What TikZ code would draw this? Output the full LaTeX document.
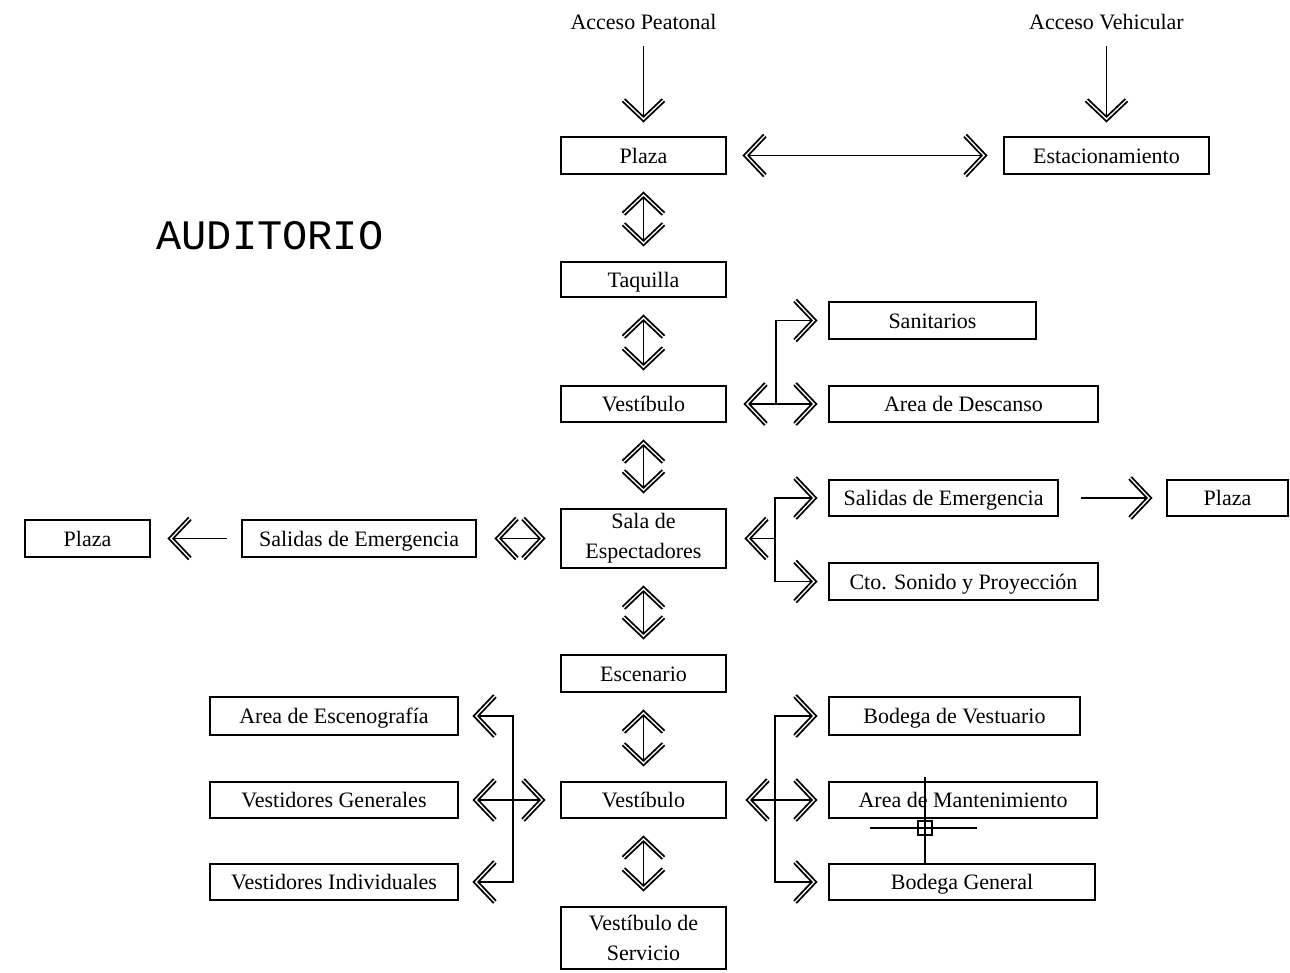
\documentclass[tikz,border=0pt]{standalone}
\usepackage{fontspec}
\setmainfont{Liberation Serif}
\newfontfamily\monof{Liberation Mono}
\usetikzlibrary{arrows.meta}

\pgfdeclarearrow{
  name = HC,
  parameters = {\the\pgfarrowlength,\the\pgfarrowwidth},
  setup code = {
    \pgfarrowssettipend{0pt}
    \pgfarrowssetbackend{-\pgfarrowlength}
    \pgfarrowssetlineend{-2pt}
    \pgfarrowssavethe\pgfarrowlength
    \pgfarrowssavethe\pgfarrowwidth
  },
  drawing code = {
    \pgfsetdash{}{0pt}
    \pgfsetmiterjoin
    \pgfsetbuttcap
    \pgfsetlinewidth{5pt}
    \pgfpathmoveto{\pgfqpoint{-\pgfarrowlength}{.5\pgfarrowwidth}}
    \pgfpathlineto{\pgfpointorigin}
    \pgfpathlineto{\pgfqpoint{-\pgfarrowlength}{-.5\pgfarrowwidth}}
    \pgfusepathqstroke
    \pgfsetlinewidth{1.3pt}
    \pgfsetstrokecolor{white}
    \pgfpathmoveto{\pgfqpoint{-\pgfarrowlength}{.5\pgfarrowwidth}}
    \pgfpathlineto{\pgfpointorigin}
    \pgfpathlineto{\pgfqpoint{-\pgfarrowlength}{-.5\pgfarrowwidth}}
    \pgfusepathqstroke
  },
  defaults = {length=19pt, width=40pt}
}

\tikzset{
  box/.style={draw, line width=1.8pt, inner sep=0pt, align=center,
    font=\fontsize{22}{30}\selectfont},
  sbox/.style={box, text height=15pt, text depth=0pt},
  lbl/.style={inner sep=0pt, font=\fontsize{22}{26}\selectfont},
  conn/.style={line width=1.6pt},
  one/.style={conn, -{HC}},
  two/.style={conn, {HC}-{HC}},
}

\begin{document}
\begin{tikzpicture}[x=1pt, y=-1pt]
\useasboundingbox[fill=white] (0,0) rectangle (1290,972);

% titles and labels
\node[font=\monof\fontsize{42}{42}\selectfont, inner sep=0pt] (title) at (270,236) {AUDITORIO};
\node[lbl] (accP) at (643.5,22) {Acceso Peatonal};
\node[lbl] (accV) at (1106.5,22) {Acceso Vehicular};

% central column
\node[sbox, minimum width=165pt, minimum height=37pt] (plaza1) at (643.5,155.5) {Plaza};
\node[sbox, minimum width=165pt, minimum height=35pt] (taq) at (643.5,279.5) {Taquilla};
\node[sbox, minimum width=165pt, minimum height=36pt] (vest1) at (643.5,404) {Vestíbulo};
\node[box, minimum width=165pt, minimum height=59pt] (sala) at (643.5,538.5) {Sala de\\Espectadores};
\node[sbox, minimum width=165pt, minimum height=37pt] (esc) at (643.5,673.5) {Escenario};
\node[sbox, minimum width=165pt, minimum height=36pt] (vest2) at (643.5,800) {Vestíbulo};
\node[box, minimum width=165pt, minimum height=62pt] (vserv) at (643.5,938) {Vestíbulo de\\Servicio};

% right side
\node[sbox, minimum width=205pt, minimum height=37pt] (est) at (1106.5,155.5) {Estacionamiento};
\node[sbox, minimum width=207pt, minimum height=37pt] (sanit) at (932.5,320.5) {Sanitarios};
\node[sbox, minimum width=269pt, minimum height=36pt] (desc) at (963.5,404) {Area de Descanso};
\node[sbox, minimum width=229pt, minimum height=36pt] (salR) at (943.5,498) {Salidas de Emergencia};
\node[sbox, minimum width=121pt, minimum height=36pt] (plazaR) at (1227.5,498) {Plaza};
\node[sbox, minimum width=269pt, minimum height=37pt] (cto) at (963.5,581.5) {Cto. Sonido y Proyección};
\node[sbox, minimum width=251pt, minimum height=38pt] (bvest) at (954.5,716) {Bodega de Vestuario};
\node[sbox, minimum width=268pt, minimum height=36pt] (amant) at (963,800) {Area de Mantenimiento};
\node[sbox, minimum width=266pt, minimum height=36pt] (bgen) at (962,882) {Bodega General};

% left side
\node[sbox, minimum width=125pt, minimum height=37pt] (plazaL) at (87.5,538.5) {Plaza};
\node[sbox, minimum width=234pt, minimum height=37pt] (salL) at (359,538.5) {Salidas de Emergencia};
\node[sbox, minimum width=248pt, minimum height=38pt] (aesc) at (334,716) {Area de Escenografía};
\node[sbox, minimum width=248pt, minimum height=36pt] (vgen) at (334,800) {Vestidores Generales};
\node[sbox, minimum width=248pt, minimum height=36pt] (vind) at (334,882) {Vestidores Individuales};

% access arrows
\draw[one, shorten <=16pt, shorten >=17pt] (accP.south) -- (plaza1.north);
\draw[one, shorten <=16pt, shorten >=17pt] (accV.south) -- (est.north);
\draw[two, shorten <=19pt, shorten >=19pt] (plaza1.east) -- (est.west);

% central vertical links
\draw[two, shorten <=20pt, shorten >=18pt] (plaza1.south) -- (taq.north);
\draw[two, shorten <=20pt, shorten >=18pt] (taq.south) -- (vest1.north);
\draw[two, shorten <=20pt, shorten >=18pt] (vest1.south) -- (sala.north);
\draw[two, shorten <=20pt, shorten >=18pt] (sala.south) -- (esc.north);
\draw[two, shorten <=20pt, shorten >=18pt] (esc.south) -- (vest2.north);
\draw[two, shorten <=20pt, shorten >=18pt] (vest2.south) -- (vserv.north);

% vestibulo branch
\coordinate (j1) at (776,404);
\draw[two, shorten <=20pt, shorten >=14pt] (vest1.east) -- (desc.west);
\draw[one, shorten >=14pt] (j1) |- (sanit.west);

% sala branch (right)
\coordinate (j2) at (775,538.5);
\draw[conn, {HC}-, shorten <=21pt] (sala.east) -- (j2);
\draw[one, shorten >=14pt] (j2) |- (salR.west);
\draw[one, shorten >=14pt] (j2) |- (cto.west);
\draw[one, shorten <=22pt, shorten >=17pt] (salR.east) -- (plazaR.west);

% sala branch (left)
\draw[two, shorten <=18pt, shorten >=21pt] (sala.west) -- (salL.east);
\draw[one, shorten <=14pt, shorten >=20pt] (salL.west) -- (plazaL.east);

% lower left branch
\coordinate (j4) at (513,800);
\draw[two, shorten <=18pt, shorten >=17pt] (vest2.west) -- (vgen.east);
\draw[one, shorten >=17pt] (j4) |- (aesc.east);
\draw[one, shorten >=17pt] (j4) |- (vind.east);

% lower right branch
\coordinate (j5) at (775,800);
\draw[two, shorten <=22pt, shorten >=14pt] (vest2.east) -- (amant.west);
\draw[one, shorten >=14pt] (j5) |- (bvest.west);
\draw[one, shorten >=14pt] (j5) |- (bgen.west);

% cursor crosshair
\draw[line width=1.2pt] (925,777) -- (925,865);
\draw[line width=1.2pt] (870,828) -- (977,828);
\draw[line width=1.2pt] (918,821) rectangle (932,835);
\end{tikzpicture}
\end{document}
